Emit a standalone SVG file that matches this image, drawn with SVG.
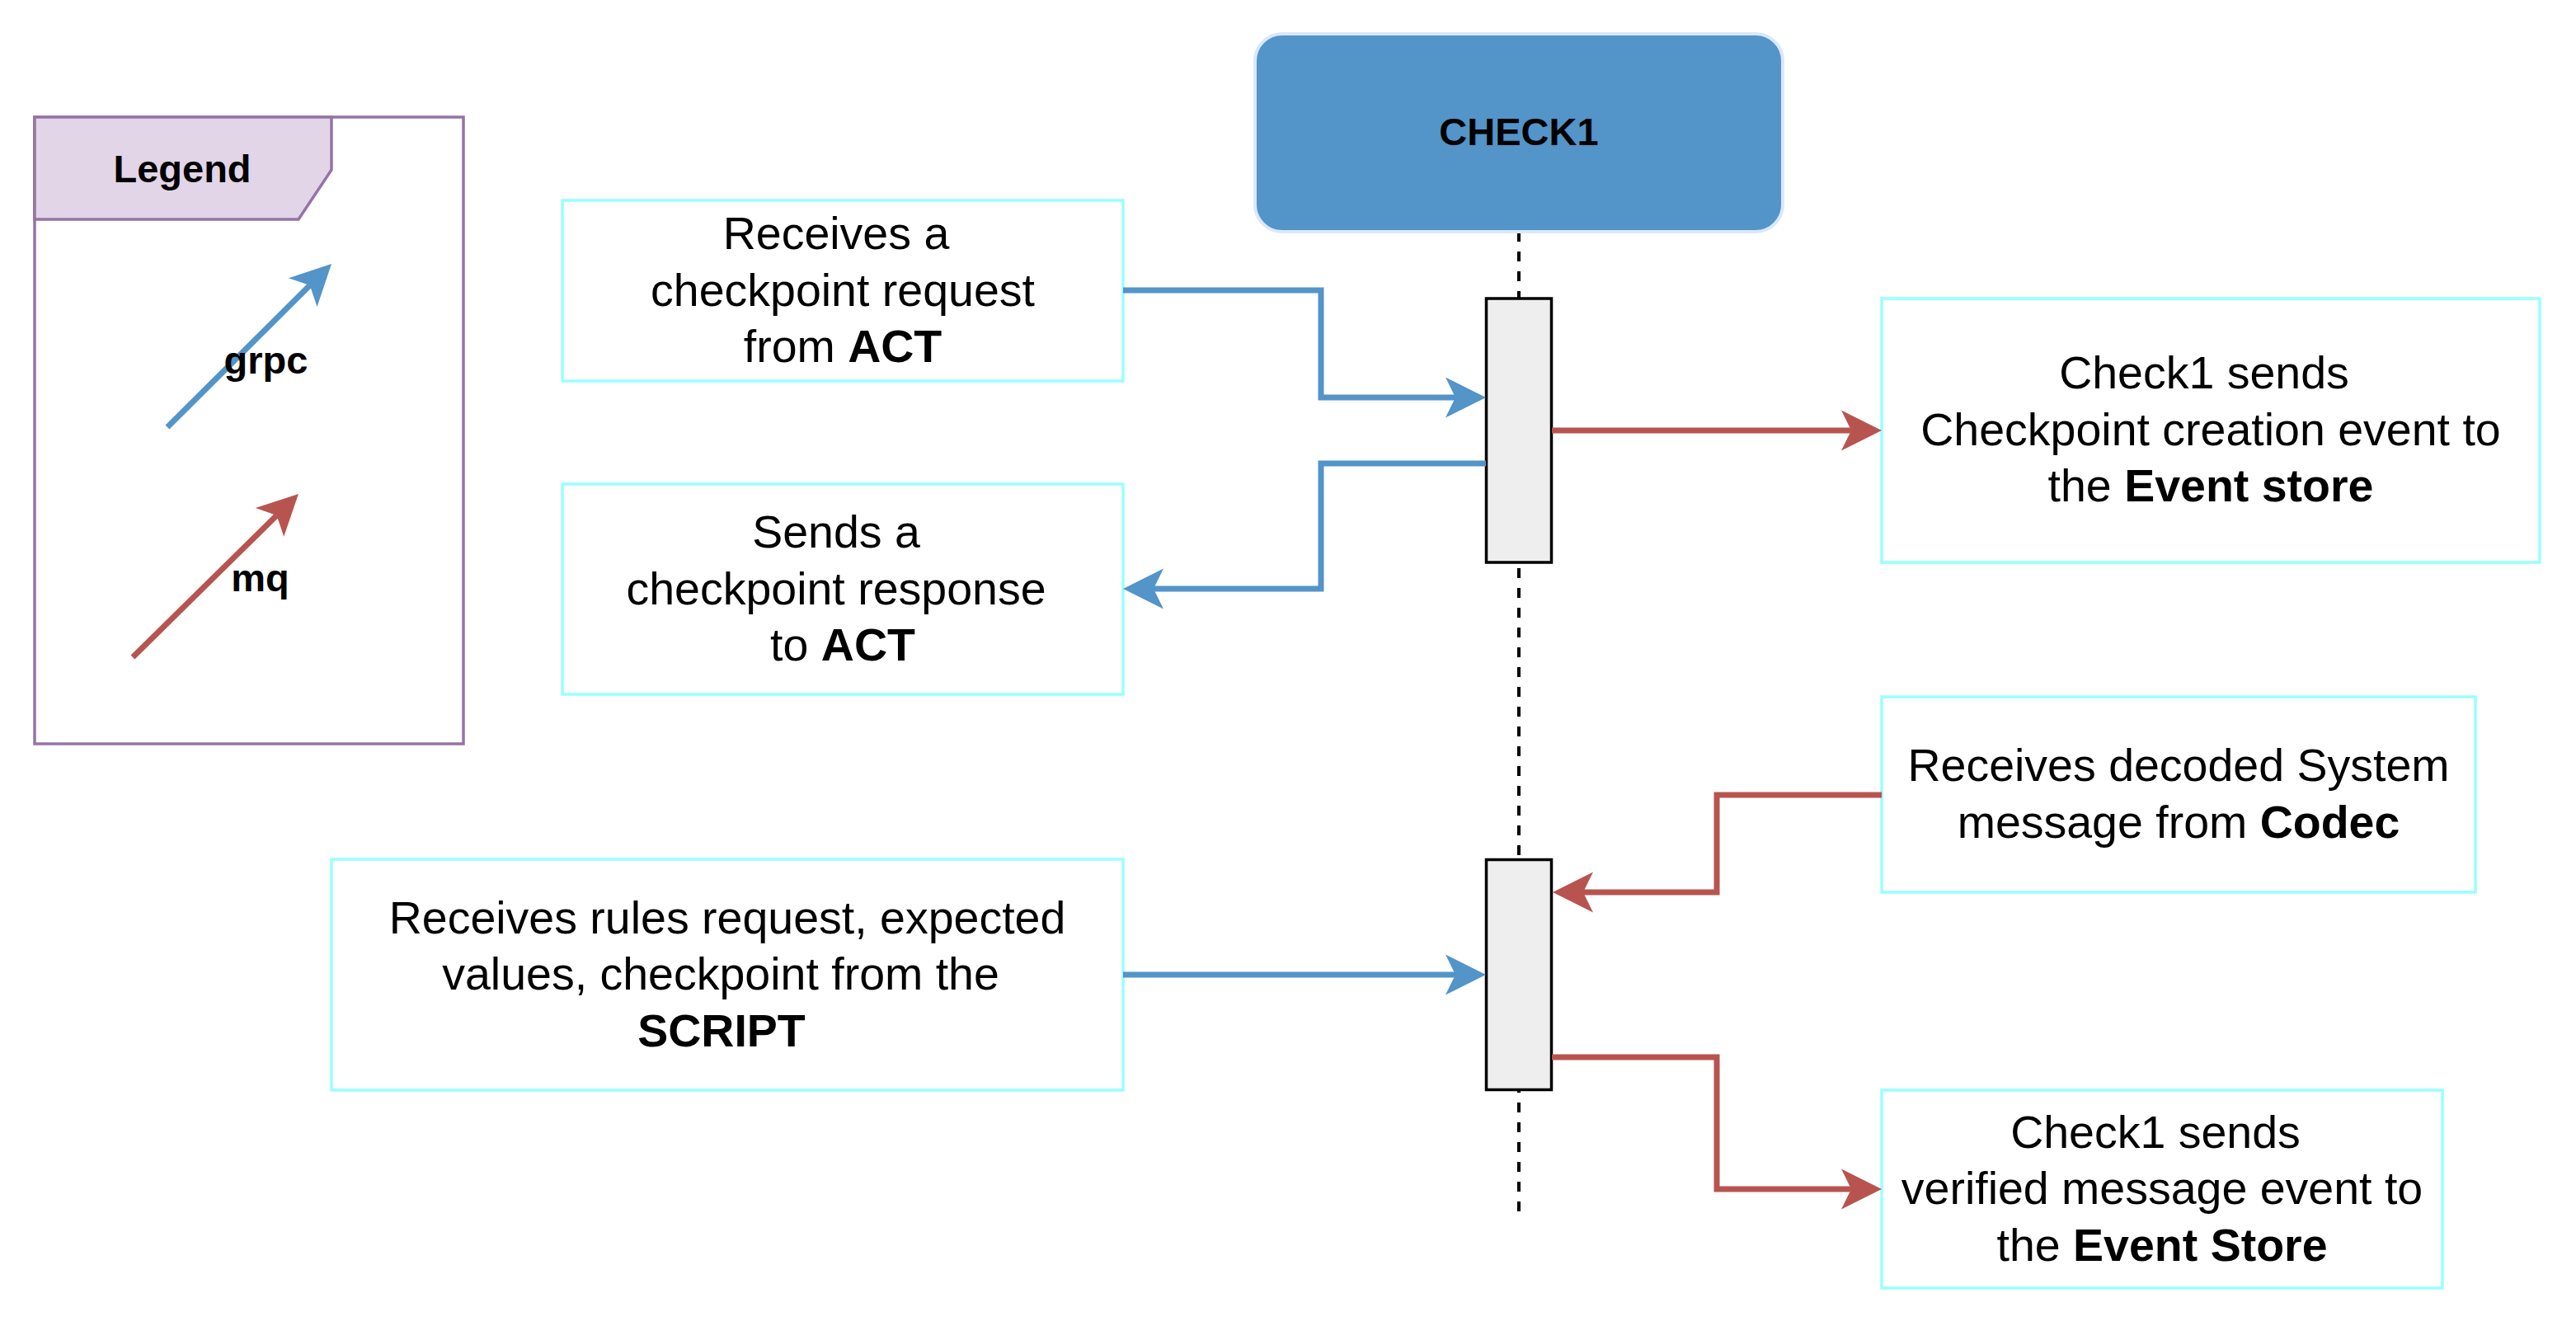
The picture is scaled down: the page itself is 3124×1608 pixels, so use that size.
<svg xmlns="http://www.w3.org/2000/svg" width="3124" height="1608" viewBox="0 0 3124 1608">
<style>
.box{fill:#ffffff;stroke:#99ffff;stroke-width:3.5}
.act{fill:#eeeeee;stroke:#000000;stroke-width:3.5}
.t{font-family:"Liberation Sans",Arial,sans-serif;font-size:55.5px;fill:#000000;text-anchor:middle}
.tb{font-family:"Liberation Sans",Arial,sans-serif;font-size:47px;font-weight:bold;fill:#000000;text-anchor:middle}
.b{font-weight:bold}
.grpc{fill:none;stroke:#5394c9;stroke-width:7}
.mq{fill:none;stroke:#b85450;stroke-width:7}
</style>
<defs>
<marker id="ah-blue" markerUnits="userSpaceOnUse" viewBox="-50 -25 52 50" refX="-37" refY="0" markerWidth="52" markerHeight="50" orient="auto">
<path d="M0,0 L-49,-24.5 L-37,0 L-49,24.5 Z" fill="#5394c9"/>
</marker>
<marker id="ah-red" markerUnits="userSpaceOnUse" viewBox="-50 -25 52 50" refX="-37" refY="0" markerWidth="52" markerHeight="50" orient="auto">
<path d="M0,0 L-49,-24.5 L-37,0 L-49,24.5 Z" fill="#b85450"/>
</marker>
</defs>
<rect x="0" y="0" width="3124" height="1608" fill="#ffffff"/>

<g id="legend">
<rect x="42" y="142" width="520" height="760" fill="#ffffff" stroke="#9673a6" stroke-width="3.5"/>
<path d="M42,142 H402 V206 L362,266 H42 Z" fill="#e1d5e7" stroke="#9673a6" stroke-width="3.5"/>
<text class="tb" x="221" y="221">Legend</text>
<path class="grpc" d="M203,518 L375.8,346.1" marker-end="url(#ah-blue)"/>
<text class="tb" x="322.5" y="453">grpc</text>
<path class="mq" d="M161,797 L335.6,625" marker-end="url(#ah-red)"/>
<text class="tb" x="315.5" y="717">mq</text>
</g>

<g id="check1">
<line x1="1842" y1="281" x2="1842" y2="1477" stroke="#000000" stroke-width="4" stroke-dasharray="12 12"/>
<rect x="1522" y="41" width="640" height="240" rx="33" ry="33" fill="#5394c9" stroke="#dae8fc" stroke-width="4"/>
<text class="tb" x="1842" y="176">CHECK1</text>
</g>

<g id="activation1">
<rect class="act" x="1802.5" y="362" width="79" height="320"/>
</g>
<g id="activation2">
<rect class="act" x="1802.5" y="1042.5" width="79" height="279"/>
</g>

<g id="node-receives-checkpoint">
<rect class="box" x="682" y="243" width="680" height="219"/>
<text class="t" x="1014" y="302">Receives a</text>
<text class="t" x="1022" y="370.5">checkpoint request</text>
<text class="t" x="1022" y="439">from <tspan class="b">ACT</tspan></text>
</g>

<g id="node-sends-response">
<rect class="box" x="682" y="587" width="680" height="255"/>
<text class="t" x="1014" y="664">Sends a</text>
<text class="t" x="1014" y="732.5">checkpoint response</text>
<text class="t" x="1022" y="801">to <tspan class="b">ACT</tspan></text>
</g>

<g id="node-receives-rules">
<rect class="box" x="402" y="1042" width="960" height="280"/>
<text class="t" x="882" y="1131.5">Receives rules request, expected</text>
<text class="t" x="874" y="1200">values, checkpoint from the</text>
<text class="t" x="875" y="1268.5"><tspan class="b">SCRIPT</tspan></text>
</g>

<g id="node-check1-creation">
<rect class="box" x="2282" y="362" width="798" height="320"/>
<text class="t" x="2673" y="471">Check1 sends</text>
<text class="t" x="2681" y="539.5">Checkpoint creation event to</text>
<text class="t" x="2681" y="608">the <tspan class="b">Event store</tspan></text>
</g>

<g id="node-receives-decoded">
<rect class="box" x="2282" y="845" width="720" height="237"/>
<text class="t" x="2642" y="947">Receives decoded System</text>
<text class="t" x="2642" y="1015.5">message from <tspan class="b">Codec</tspan></text>
</g>

<g id="node-check1-verified">
<rect class="box" x="2282" y="1322" width="680" height="240"/>
<text class="t" x="2614" y="1391.5">Check1 sends</text>
<text class="t" x="2622" y="1460">verified message event to</text>
<text class="t" x="2622" y="1528.5">the <tspan class="b">Event Store</tspan></text>
</g>

<g id="connectors">
<path class="grpc" d="M1362,352 H1602 V482 H1765" marker-end="url(#ah-blue)"/>
<path class="grpc" d="M1802,562 H1602 V714 H1399" marker-end="url(#ah-blue)"/>
<path class="mq" d="M1882,522 H2245" marker-end="url(#ah-red)"/>
<path class="mq" d="M2282,964 H2082 V1082 H1920" marker-end="url(#ah-red)"/>
<path class="grpc" d="M1362,1182 H1765" marker-end="url(#ah-blue)"/>
<path class="mq" d="M1882,1282 H2082 V1442 H2245" marker-end="url(#ah-red)"/>
</g>
</svg>
